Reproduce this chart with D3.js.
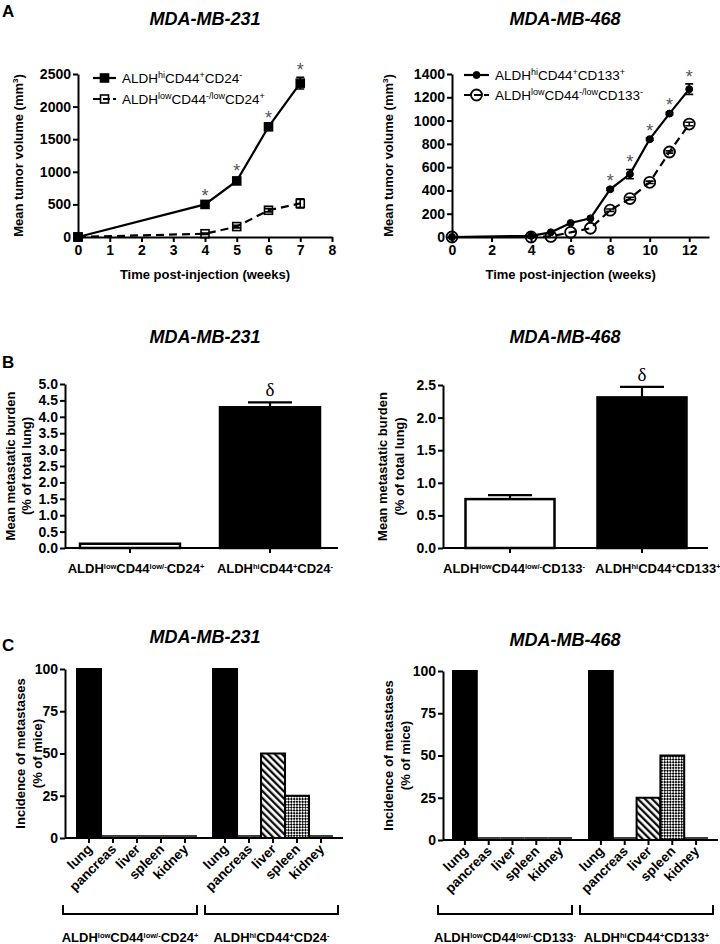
<!DOCTYPE html>
<html><head><meta charset="utf-8">
<script src="https://cdn.jsdelivr.net/npm/d3@7"></script>
<style>body{margin:0;background:#fff} svg{display:block;font-family:"Liberation Sans",Arial,sans-serif}</style>
</head><body><svg id="c" width="720" height="944"></svg>
<script>
// ---------- DATA ----------
// Panel A (left) MDA-MB-231
const a1Weeks = [0, 4, 5, 6, 7];
const a1Hi = [0, 500, 860, 1690, 2360];
const a1HiErr = [0, 20, 50, 30, 90];
const a1Low = [0, 50, 160, 410, 515];
const a1LowErr = [0, 10, 20, 25, 70];
const a1StarWeeks = [4, 5, 6, 7];
const a1XTicks = [0, 1, 2, 3, 4, 5, 6, 7, 8];
const a1YTicks = [0, 500, 1000, 1500, 2000, 2500];
const a1Legend = ["ALDH^{hi}CD44^{+}CD24^{-}", "ALDH^{low}CD44^{-/low}CD24^{+}"];
// Panel A (right) MDA-MB-468
const a2Weeks = [0, 4, 5, 6, 7, 8, 9, 10, 11, 12];
const a2Hi = [0, 10, 40, 120, 160, 410, 540, 840, 1060, 1270];
const a2HiErr = [0, 0, 0, 0, 0, 10, 40, 10, 10, 45];
const a2Low = [0, 0, 5, 40, 75, 230, 330, 470, 730, 970];
const a2LowErr = [0, 0, 0, 0, 0, 10, 10, 10, 10, 15];
const a2StarWeeks = [8, 9, 10, 11, 12];
const a2XTicks = [0, 2, 4, 6, 8, 10, 12];
const a2YTicks = [0, 200, 400, 600, 800, 1000, 1200, 1400];
const a2Legend = ["ALDH^{hi}CD44^{+}CD133^{+}", "ALDH^{low}CD44^{-/low}CD133^{-}"];
// Panel B
const b1Cats = ["ALDH^{low}CD44^{low/-}CD24^{+}", "ALDH^{hi}CD44^{+}CD24^{-}"];
const b1Vals = [0.13, 4.29];
const b1Errs = [0, 0.15];
const b1YTicks = [0, 0.5, 1.0, 1.5, 2.0, 2.5, 3.0, 3.5, 4.0, 4.5, 5.0];
const b2Cats = ["ALDH^{low}CD44^{low/-}CD133^{-}", "ALDH^{hi}CD44^{+}CD133^{+}"];
const b2Vals = [0.75, 2.31];
const b2Errs = [0.06, 0.16];
const b2YTicks = [0, 0.5, 1.0, 1.5, 2.0, 2.5];
// Panel C
const organs = ["lung", "pancreas", "liver", "spleen", "kidney"];
const c1Low = [100, 0, 0, 0, 0];
const c1Hi = [100, 0, 50, 25, 0];
const c2Low = [100, 0, 0, 0, 0];
const c2Hi = [100, 0, 25, 50, 0];
const cYTicks = [0, 25, 50, 75, 100];

// ---------- SETUP ----------
const svg = d3.select("#c");
const FONT = "Liberation Sans, Arial, sans-serif";
const defs = svg.append("defs");
const hatch = defs.append("pattern").attr("id", "hatch").attr("patternUnits", "userSpaceOnUse")
  .attr("width", 5).attr("height", 5).attr("patternTransform", "rotate(-45)");
hatch.append("rect").attr("width", 5).attr("height", 5).attr("fill", "#fff");
hatch.append("line").attr("x1", 1.2).attr("y1", 0).attr("x2", 1.2).attr("y2", 5).attr("stroke", "#000").attr("stroke-width", 2.2);
const check = defs.append("pattern").attr("id", "check").attr("patternUnits", "userSpaceOnUse")
  .attr("width", 4).attr("height", 4).attr("patternTransform", "rotate(45)");
check.append("rect").attr("width", 4).attr("height", 4).attr("fill", "#fff");
check.append("rect").attr("width", 2).attr("height", 2).attr("fill", "#000");
check.append("rect").attr("x", 2).attr("y", 2).attr("width", 2).attr("height", 2).attr("fill", "#000");
const organFill = { lung: "#000", pancreas: "#000", liver: "url(#hatch)", spleen: "url(#check)", kidney: "#000" };

function rich(sel, str, supSize, shift) {
  const parts = str.split(/(\^\{[^}]*\})/).filter(s => s.length);
  let up = false;
  parts.forEach(p => {
    if (p.startsWith("^{")) {
      sel.append("tspan").attr("font-size", supSize).attr("dy", up ? 0 : -shift).text(p.slice(2, -1));
      up = true;
    } else {
      sel.append("tspan").attr("dy", up ? shift : 0).text(p);
      up = false;
    }
  });
  return sel;
}
function styleAxis(g, fs) {
  g.attr("font-family", FONT).attr("font-size", fs).attr("font-weight", "bold");
  g.select(".domain").attr("stroke", "#000").attr("stroke-width", 2);
  g.selectAll(".tick line").attr("stroke", "#000").attr("stroke-width", 2);
  g.selectAll(".tick text").attr("fill", "#000");
}
function text(x, y, str, o = {}) {
  const t = svg.append("text").attr("x", x).attr("y", y).attr("font-family", o.family || FONT)
    .attr("font-size", o.size || 12).attr("font-weight", o.weight || "bold")
    .attr("font-style", o.style || "normal").attr("text-anchor", o.anchor || "middle").attr("fill", o.fill || "#000");
  if (o.rotate) t.attr("transform", `rotate(${o.rotate},${x},${y})`);
  return t;
}
function title(x, y, str) { text(x, y, str, { size: 18, style: "italic" }).text(str); }
function letter(x, y, str) { text(x, y, str, { size: 17, anchor: "start" }).text(str); }

// ---------- LINE CHART ----------
function lineChart(o) {
  const x = d3.scaleLinear().domain(o.xDomain).range(o.xRange);
  const y = d3.scaleLinear().domain(o.yDomain).range(o.yRange);
  const gx = svg.append("g").attr("transform", `translate(0,${o.yRange[0]})`)
    .call(d3.axisBottom(x).tickValues(o.xTicks).tickFormat(d3.format("d")).tickSize(5).tickSizeOuter(0).tickPadding(3));
  styleAxis(gx, 14);
  const gy = svg.append("g").attr("transform", `translate(${o.xRange[0]},0)`)
    .call(d3.axisLeft(y).tickValues(o.yTicks).tickFormat(d3.format("d")).tickSize(5).tickSizeOuter(0).tickPadding(2));
  styleAxis(gy, 14);
  text((o.xRange[0] + x(o.xTicks[o.xTicks.length - 1])) / 2, o.yRange[0] + 42, "", { size: 13 }).text("Time post-injection (weeks)");
  rich(text(o.yTitleX, (o.yRange[0] + o.yRange[1]) / 2, "", { size: 13, rotate: -90 }), "Mean tumor volume (mm^{3})", 8, 5);

  o.series.forEach(s => {
    const idx = d3.range(o.weeks.length);
    const line = d3.line().x(i => x(o.weeks[i])).y(i => y(s.vals[i]));
    svg.append("path").datum(idx).attr("d", line).attr("fill", "none").attr("stroke", "#000")
      .attr("stroke-width", 2.2).attr("stroke-dasharray", s.dash || null);
    idx.filter(i => s.errs[i] > 0).forEach(i => {
      const cx = x(o.weeks[i]);
      svg.append("path").attr("d", `M${cx},${y(s.vals[i] - s.errs[i])}V${y(s.vals[i] + s.errs[i])}M${cx - 4},${y(s.vals[i] + s.errs[i])}h8M${cx - 4},${y(s.vals[i] - s.errs[i])}h8`)
        .attr("stroke", "#000").attr("stroke-width", 1.6).attr("fill", "none");
    });
    idx.forEach(i => drawMarker(x(o.weeks[i]), y(s.vals[i]), s.marker, s.filled));
  });
  o.starWeeks.forEach(w => {
    const i = o.weeks.indexOf(w);
    const s = o.series[0];
    text(x(w), y(s.vals[i] + s.errs[i]) - 1, "", { size: 18, weight: "normal", fill: "#555" }).text("*");
  });
  o.legend.forEach((lab, k) => {
    const s = o.series[k];
    const ly = o.legendY[k];
    svg.append("line").attr("x1", o.legendX[0]).attr("x2", o.legendX[1]).attr("y1", ly).attr("y2", ly)
      .attr("stroke", "#000").attr("stroke-width", 2.2).attr("stroke-dasharray", s.dash ? "7,3" : null);
    drawMarker((o.legendX[0] + o.legendX[1]) / 2, ly, s.marker, s.filled);
    rich(text(o.legendX[1] + 6, ly + 5, "", { size: 13.5, weight: "normal", anchor: "start" }), lab, 9, 5);
  });
}
function drawMarker(cx, cy, type, filled) {
  if (type === "square") {
    const sz = 8;
    svg.append("rect").attr("x", cx - sz / 2).attr("y", cy - sz / 2).attr("width", sz).attr("height", sz)
      .attr("fill", filled ? "#000" : "none").attr("stroke", "#000").attr("stroke-width", 1.6);
  } else {
    svg.append("circle").attr("cx", cx).attr("cy", cy).attr("r", filled ? 3.5 : 5.5)
      .attr("fill", filled ? "#000" : "none").attr("stroke", "#000").attr("stroke-width", filled ? 1 : 1.8);
  }
}

// ---------- BAR CHART (B) ----------
function barChart(o) {
  const y = d3.scaleLinear().domain(o.yDomain).range(o.yRange);
  const x = d3.scalePoint().domain(d3.range(o.cats.length)).range(o.centers);
  const gy = svg.append("g").attr("transform", `translate(${o.axisX},0)`)
    .call(d3.axisLeft(y).tickValues(o.yTicks).tickFormat(d3.format(".1f")).tickSize(5).tickSizeOuter(0).tickPadding(2));
  styleAxis(gy, 14);
  o.vals.forEach((v, i) => {
    svg.append("rect").attr("x", x(i) - o.barW / 2).attr("y", y(v)).attr("width", o.barW).attr("height", y(0) - y(v))
      .attr("fill", i === 0 ? "#fff" : "#000").attr("stroke", "#000").attr("stroke-width", 2.5);
    if (o.errs[i] > 0) {
      svg.append("path").attr("d", `M${x(i)},${y(v)}V${y(v + o.errs[i])}M${x(i) - 22},${y(v + o.errs[i])}h44`)
        .attr("stroke", "#000").attr("stroke-width", 2.2).attr("fill", "none");
    }
  });
  svg.append("path").attr("d", `M${o.axisX},${y(0)}H${o.axisEnd}` + o.vals.map((v, i) => `M${x(i)},${y(0)}v5`).join(""))
    .attr("stroke", "#000").attr("stroke-width", 2).attr("fill", "none");
  o.cats.forEach((c, i) => rich(text(x(i) + o.labelDx[i], y(0) + 25, "", { size: 13 }), c, 7.5, 4));
  const i = 1;
  text(x(i), y(o.vals[i] + o.errs[i]) - 6, "", { size: 19, weight: "normal", family: "Liberation Serif, DejaVu Serif, serif" }).text("δ");
  text(o.yTitleX[0], (o.yRange[0] + o.yRange[1]) / 2, "", { size: 13, rotate: -90 }).text("Mean metastatic burden");
  text(o.yTitleX[1], (o.yRange[0] + o.yRange[1]) / 2, "", { size: 13, rotate: -90 }).text("(% of total lung)");
}

// ---------- GROUPED BAR (C) ----------
function incidenceChart(o) {
  const y = d3.scaleLinear().domain([0, 100]).range(o.yRange);
  const outer = d3.scaleBand().domain([0, 1]).range(o.groupRange).paddingInner(o.gap);
  const inner = d3.scaleBand().domain(organs).range([0, outer.bandwidth()]);
  const gy = svg.append("g").attr("transform", `translate(${o.axisX},0)`)
    .call(d3.axisLeft(y).tickValues(cYTicks).tickSize(5).tickSizeOuter(0).tickPadding(2));
  styleAxis(gy, 14);
  const groups = [o.low, o.hi];
  let tickPath = `M${o.axisX},${y(0)}H${o.axisEnd}`;
  const c = Math.SQRT1_2;
  groups.forEach((vals, g) => {
    organs.forEach((org, k) => {
      const bx = outer(g) + inner(org);
      const h = y(0) - y(vals[k]);
      if (h > 0) {
        svg.append("rect").attr("x", bx).attr("y", y(vals[k])).attr("width", inner.bandwidth()).attr("height", h)
          .attr("fill", organFill[org]).attr("stroke", "#000").attr("stroke-width", 2);
      } else {
        svg.append("path").attr("d", `M${bx},${y(vals[k]) - 2}h${inner.bandwidth()}`)
          .attr("stroke", "#000").attr("stroke-width", 1.5);
      }
      const cx = bx + inner.bandwidth() / 2;
      tickPath += `M${cx},${y(0)}v5`;
      svg.append("text")
        .attr("transform", `matrix(${c},${-c},${c},${c},${cx + 4},${y(0) + 12})`)
        .attr("x", 0).attr("y", 0)
        .style("font-family", FONT).style("font-size", "13.5px").style("font-weight", "bold")
        .style("text-anchor", "end").attr("fill", "#000").text(org);
    });
    const b0 = outer(g) - o.bracketPad[g][0], b1 = outer(g) + outer.bandwidth() + o.bracketPad[g][1];
    svg.append("path").attr("d", `M${b0},905V914H${b1}V905`).attr("stroke", "#000").attr("stroke-width", 2).attr("fill", "none");
    rich(text((b0 + b1) / 2, 942, "", { size: 13 }), o.cats[g], 7.5, 4);
  });
  svg.append("path").attr("d", tickPath).attr("stroke", "#000").attr("stroke-width", 2).attr("fill", "none");
  const yc = (o.yRange[0] + o.yRange[1]) / 2;
  text(o.yTitleX[0], yc, "", { size: 13, rotate: -90 }).text("Incidence of metastases");
  text(o.yTitleX[1], yc, "", { size: 13, rotate: -90 }).text("(% of mice)");
}

// ---------- DRAW ----------
letter(2, 17, "A");
title(205, 25, "MDA-MB-231");
title(565, 25, "MDA-MB-468");
lineChart({
  weeks: a1Weeks, xDomain: [0, 8], xRange: [78, 332], yDomain: [0, 2500], yRange: [237, 74],
  xTicks: a1XTicks, yTicks: a1YTicks, yTitleX: 23,
  series: [
    { vals: a1Hi, errs: a1HiErr, marker: "square", filled: true },
    { vals: a1Low, errs: a1LowErr, marker: "square", filled: false, dash: "8,5" }],
  starWeeks: a1StarWeeks, legend: a1Legend, legendX: [93, 116], legendY: [78, 99]
});
lineChart({
  weeks: a2Weeks, xDomain: [0, 13], xRange: [452, 709], yDomain: [0, 1400], yRange: [237, 74],
  xTicks: a2XTicks, yTicks: a2YTicks, yTitleX: 393,
  series: [
    { vals: a2Hi, errs: a2HiErr, marker: "circle", filled: true },
    { vals: a2Low, errs: a2LowErr, marker: "circle", filled: false, dash: "8,5" }],
  starWeeks: a2StarWeeks, legend: a2Legend, legendX: [464, 489], legendY: [75, 95]
});

letter(2, 368, "B");
title(205, 343, "MDA-MB-231");
title(565, 343, "MDA-MB-468");
barChart({ cats: b1Cats, vals: b1Vals, errs: b1Errs, yDomain: [0, 5], yRange: [548, 384], yTicks: b1YTicks,
  axisX: 65, axisEnd: 338, centers: [130, 270], barW: 100, labelDx: [6, 5], yTitleX: [15, 31] });
barChart({ cats: b2Cats, vals: b2Vals, errs: b2Errs, yDomain: [0, 2.5], yRange: [548, 385], yTicks: b2YTicks,
  axisX: 443, axisEnd: 708, centers: [510, 642], barW: 89, labelDx: [4, 16], yTitleX: [387, 404] });

letter(2, 651, "C");
title(205, 643, "MDA-MB-231");
title(565, 646, "MDA-MB-468");
incidenceChart({ low: c1Low, hi: c1Hi, cats: b1Cats, yRange: [838, 669], groupRange: [77, 333], gap: 0.118,
  axisX: 65, axisEnd: 343, bracketPad: [[14, 0], [8, 5]], yTitleX: [25, 42] });
incidenceChart({ low: c2Low, hi: c2Hi, cats: b2Cats, yRange: [840, 671], groupRange: [453, 708], gap: 0.125,
  axisX: 443, axisEnd: 718, bracketPad: [[15, 0], [9, 5]], yTitleX: [393, 410] });
</script></body></html>
